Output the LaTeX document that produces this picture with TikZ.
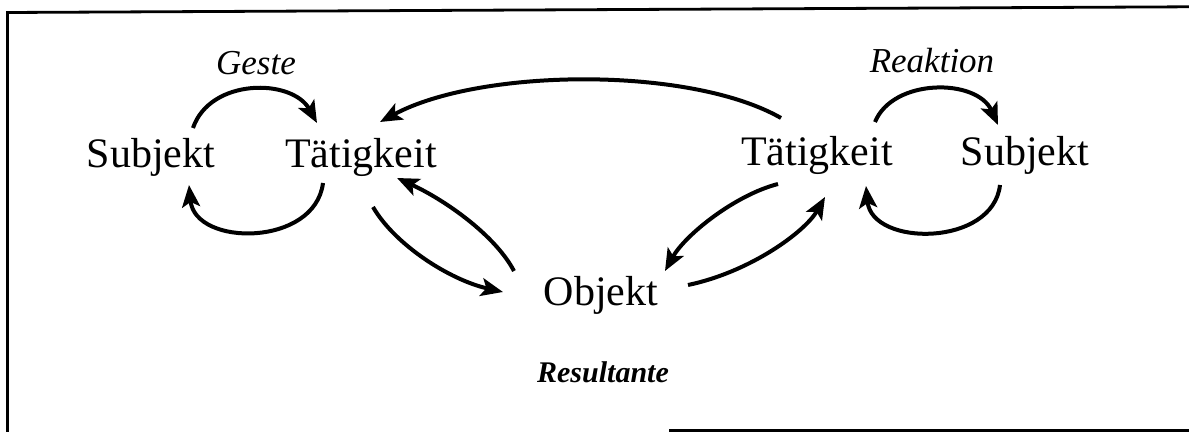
\documentclass[tikz,border=0pt]{standalone}
\usepackage{fontspec}
\setmainfont{Liberation Serif}
\usetikzlibrary{arrows.meta,calc}
\tikzset{
  word/.style={anchor=base,inner sep=0pt,font=\fontsize{21}{25}\selectfont},
  lbl/.style={anchor=base,inner sep=0pt,font=\fontsize{17.5}{20}\selectfont\itshape},
  reslbl/.style={anchor=base,inner sep=0pt,font=\fontsize{15}{18}\selectfont\bfseries\itshape},
  arr/.style={line width=2pt,-{Stealth[length=11pt,width=9pt,inset=2.5pt]}},
  frame/.style={line width=1.4pt}
}
\begin{document}
\begin{tikzpicture}[x=0.5pt,y=-0.5pt]
\useasboundingbox (0,0) rectangle (1189,432);
% frame (cropped scan)
\draw[frame] (7.5,432) -- (7.5,12.5) -- (1189,6.8);
\draw[frame] (669,430.3) -- (1189,430.3);
% nodes
\node[word] (sL) at (151,168) {Subjekt};
\node[word] (tL) at (361,168) {Tätigkeit};
\node[word] (obj) at (601,306) {Objekt};
\node[word] (tR) at (817,166) {Tätigkeit};
\node[word] (sR) at (1025,166) {Subjekt};
\node[lbl] (geste) at (256,75) {Geste};
\node[lbl] (reak) at (932,73) {Reaktion};
\node[reslbl] (res) at (603,383) {Resultante};
% left loop
\draw[arr] ($(sL.base)+(42,-40)$) .. controls +(17,-50) and +(-25,-45) .. ($(tL.base)+(-44,-45)$);
\draw[arr] ($(tL.base)+(-38,15)$) .. controls +(-8,64) and +(6,62) .. ($(sL.base)+(38,17)$);
% top long arc
\draw[arr] ($(tR.base)+(-36,-48)$) .. controls +(-91,-52) and +(100,-54) .. ($(tL.base)+(19,-46)$);
% left Taetigkeit <-> Objekt
\draw[arr] ($(tL.base)+(12,39)$) .. controls +(22,38) and +(-53,-12) .. ($(obj.base)+(-98,-14)$);
\draw[arr] ($(obj.base)+(-87,-35)$) .. controls +(-19,-36) and +(48,22) .. ($(tL.base)+(36,10)$);
% right Taetigkeit <-> Objekt
\draw[arr] ($(tR.base)+(-39,18)$) .. controls +(-43,11) and +(20,-36) .. ($(obj.base)+(64,-35)$);
\draw[arr] ($(obj.base)+(87,-21)$) .. controls +(62,-13) and +(-20,35) .. ($(tR.base)+(8,31)$);
% right loop
\draw[arr] ($(tR.base)+(58,-44)$) .. controls +(18,-44) and +(-21,-47) .. ($(sR.base)+(-27,-41)$);
\draw[arr] ($(sR.base)+(-25,19)$) .. controls +(-7,62) and +(6,61) .. ($(tR.base)+(49,20)$);
\end{tikzpicture}
\end{document}
